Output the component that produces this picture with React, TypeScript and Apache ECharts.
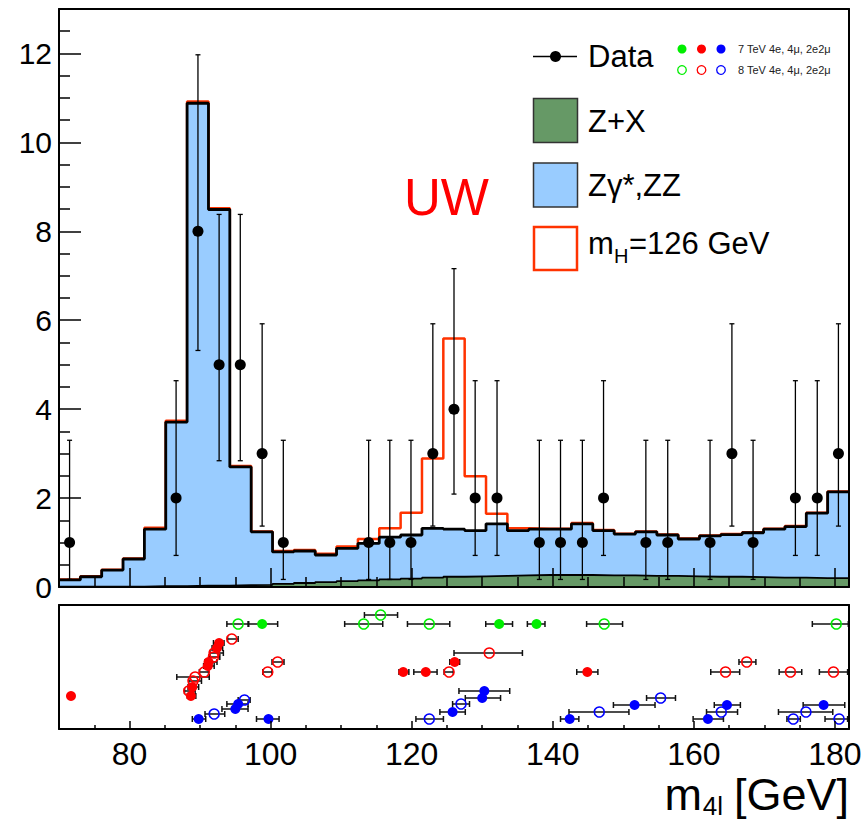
import React, { useEffect, useRef } from 'react';
import * as echarts from 'echarts';

// ---------- histogram binning ----------
const X_MIN = 70;
const X_MAX = 182;
const N_BINS = 37;

// Z+X background per bin
const zxBkg = [0.01, 0.01, 0.01, 0.01, 0.02, 0.02, 0.03, 0.03, 0.04, 0.05, 0.07, 0.09, 0.11, 0.13, 0.15, 0.17, 0.19, 0.21, 0.23, 0.24, 0.25, 0.26, 0.27, 0.27, 0.27, 0.26, 0.26, 0.25, 0.25, 0.24, 0.23, 0.23, 0.22, 0.21, 0.21, 0.20, 0.20];
// Zgamma*,ZZ background per bin
const zzBkg = [0.15, 0.22, 0.37, 0.62, 1.28, 3.69, 10.85, 8.46, 2.66, 1.19, 0.72, 0.72, 0.61, 0.74, 0.83, 0.95, 0.98, 1.11, 1.07, 1.03, 1.17, 1.01, 1.03, 1.03, 1.15, 1.01, 0.93, 0.99, 0.92, 0.84, 0.92, 0.95, 1.00, 1.09, 1.15, 1.46, 1.94];
// mH = 126 GeV signal per bin
const higgs126 = [0.01, 0.01, 0.01, 0.01, 0.03, 0.03, 0.04, 0.03, 0.02, 0.01, 0.02, 0.02, 0.03, 0.04, 0.10, 0.20, 0.50, 1.57, 4.29, 1.22, 0.23, 0.05, 0.01, 0.01, 0.02, 0.01, 0.01, 0.01, 0.01, 0.01, 0.01, 0.01, 0.01, 0.01, 0.01, 0.01, 0.01];

// ---------- data points ----------
const dataMass = [71.5, 86.6, 89.7, 92.7, 95.7, 98.8, 101.8, 113.9, 116.9, 119.9, 123.0, 126.0, 129.0, 132.1, 138.1, 141.1, 144.2, 147.2, 153.2, 156.3, 162.3, 165.4, 168.4, 174.4, 177.5, 180.5];
const dataCount = [1, 2, 8, 5, 5, 3, 1, 1, 1, 1, 3, 4, 2, 2, 1, 1, 1, 2, 1, 1, 1, 3, 1, 2, 2, 3];
const dataErrLow = [0.17, 0.71, 5.32, 2.84, 2.84, 1.37, 0.17, 0.17, 0.17, 0.17, 1.37, 2.09, 0.71, 0.71, 0.17, 0.17, 0.17, 0.71, 0.17, 0.17, 0.17, 1.37, 0.17, 0.71, 0.71, 1.37];
const dataErrHigh = [3.30, 4.64, 11.97, 8.38, 8.38, 5.92, 3.30, 3.30, 3.30, 3.30, 5.92, 7.16, 4.64, 4.64, 3.30, 3.30, 3.30, 4.64, 3.30, 3.30, 3.30, 5.92, 3.30, 4.64, 4.64, 5.92];

// ---------- individual events: [m4l, low, high, row] ----------
const ev7TeV4e = [
  [98.8, 96.9, 101.0, 10.5],
  [132.4, 130.5, 134.3, 10.5],
  [137.7, 136.4, 138.9, 10.5],
];
const ev8TeV4e = [
  [95.4, 93.8, 96.8, 10.5],
  [115.6, 113.3, 118.0, 11.4],
  [113.2, 110.5, 115.9, 10.5],
  [122.5, 119.4, 125.4, 10.5],
  [147.3, 144.8, 149.9, 10.5],
  [180.2, 176.8, 181.9, 10.5],
];
const ev7TeV4mu = [
  [71.7, 71.3, 72.1, 3.3],
  [92.7, 91.9, 93.4, 8.6],
  [92.4, 91.7, 93.2, 8.1],
  [91.2, 90.7, 92.4, 6.7],
  [91.1, 90.5, 92.0, 6.3],
  [88.9, 88.3, 89.8, 4.2],
  [88.7, 88.2, 89.4, 3.3],
  [118.8, 118.2, 119.6, 5.7],
  [122.0, 120.3, 123.6, 5.7],
  [126.1, 125.4, 126.8, 6.7],
  [144.9, 143.4, 146.4, 5.7],
];
const ev8TeV4mu = [
  [94.5, 93.9, 95.4, 9.0],
  [92.0, 91.4, 93.3, 7.6],
  [91.9, 91.3, 92.8, 7.2],
  [90.6, 89.9, 91.2, 5.7],
  [89.3, 86.7, 91.3, 5.2],
  [89.0, 88.4, 90.2, 4.8],
  [88.4, 87.8, 89.3, 3.8],
  [101.0, 100.2, 101.9, 6.7],
  [99.6, 98.9, 100.2, 5.7],
  [125.3, 124.6, 125.9, 5.7],
  [131.0, 126.0, 135.7, 7.6],
  [167.5, 166.4, 168.8, 6.7],
  [164.5, 162.4, 166.5, 5.7],
  [173.7, 172.1, 175.3, 5.7],
  [179.8, 177.8, 181.8, 5.7],
];
const ev7TeV2e2mu = [
  [95.4, 93.8, 96.8, 2.5],
  [95.0, 93.1, 96.8, 2.0],
  [89.8, 88.9, 90.8, 1.0],
  [99.7, 98.0, 101.2, 1.0],
  [125.8, 124.0, 127.6, 1.7],
  [130.3, 126.7, 133.9, 3.8],
  [130.0, 127.6, 132.6, 3.1],
  [142.4, 141.1, 143.7, 1.0],
  [151.6, 148.6, 154.5, 2.4],
  [164.7, 162.9, 166.6, 2.4],
  [162.0, 159.9, 164.2, 1.0],
  [178.4, 175.5, 181.4, 2.4],
];
const ev8TeV2e2mu = [
  [96.3, 95.4, 97.1, 2.9],
  [92.0, 90.7, 93.5, 1.5],
  [127.0, 125.8, 128.2, 2.5],
  [122.5, 120.6, 124.5, 1.0],
  [146.6, 142.3, 150.8, 1.7],
  [155.3, 153.3, 157.4, 3.1],
  [163.9, 161.8, 166.2, 1.7],
  [175.9, 172.0, 179.7, 1.7],
  [174.1, 173.2, 175.1, 1.0],
  [180.6, 178.6, 181.8, 1.0],
];

// ---------- ticks ----------
const xMajorTicks = [80, 100, 120, 140, 160, 180];
const xMinorTicks = [75, 85, 90, 95, 105, 110, 115, 125, 130, 135, 145, 150, 155, 165, 170, 175];
const yMajorTicks = [0, 2, 4, 6, 8, 10, 12];
const yMinorTicks = [0.5, 1, 1.5, 2.5, 3, 3.5, 4.5, 5, 5.5, 6.5, 7, 7.5, 8.5, 9, 9.5, 10.5, 11, 11.5, 12.5];

const FONT = '"Liberation Sans", Arial, Helvetica, sans-serif';
const C_GREEN = '#669966';
const C_BLUE = '#99ccff';
const C_SIG = '#ff3300';

function stepPoints(vals: number[]) {
  const w = (X_MAX - X_MIN) / N_BINS;
  const pts = vals.map((v, i) => [X_MIN + i * w, v]);
  pts.push([X_MAX, vals[vals.length - 1]]);
  return pts;
}

function App() {
  const ref = useRef<HTMLDivElement>(null);
  useEffect(() => {
    const chart = echarts.init(ref.current!, null, { renderer: 'svg' });

    const bgTotal = zzBkg.map((v, i) => v + zxBkg[i]);
    const sigTotal = bgTotal.map((v, i) => v + higgs126[i]);

    const lineOnly = (gridIndex: number, position: string, min: number, max: number) => ({
      gridIndex, type: 'value', min, max, position, z: 10,
      axisLine: { show: true, onZero: false, lineStyle: { color: '#000', width: 2 } },
      axisTick: { show: false }, axisLabel: { show: false }, splitLine: { show: false },
    });
    const tickAxis = (gridIndex: number, position: string, min: number, max: number, values: number[], len: number) => ({
      gridIndex, type: 'value', min, max, position, z: 10,
      axisLine: { show: false, onZero: false },
      axisTick: { show: true, inside: true, length: len, customValues: values, lineStyle: { color: '#000', width: 1.5 } },
      axisLabel: { show: false }, splitLine: { show: false },
    });

    const vErrSeries = {
      type: 'custom', xAxisIndex: 0, yAxisIndex: 0, z: 6, silent: true,
      data: dataMass.map((m, i) => [m, dataErrLow[i], dataErrHigh[i]]),
      renderItem: (params: any, api: any) => {
        const lo = api.coord([api.value(0), api.value(1)]);
        const hi = api.coord([api.value(0), api.value(2)]);
        const st = { stroke: '#000', lineWidth: 1.3 };
        return {
          type: 'group', children: [
            { type: 'line', shape: { x1: lo[0], y1: lo[1], x2: hi[0], y2: hi[1] }, style: st },
            { type: 'line', shape: { x1: lo[0] - 2.5, y1: lo[1], x2: lo[0] + 2.5, y2: lo[1] }, style: st },
            { type: 'line', shape: { x1: hi[0] - 2.5, y1: hi[1], x2: hi[0] + 2.5, y2: hi[1] }, style: st },
          ],
        };
      },
    };

    const hErrSeries = (events: number[][]) => ({
      type: 'custom', xAxisIndex: 3, yAxisIndex: 3, z: 5, silent: true,
      data: events.map((e) => [e[1], e[2], e[3]]),
      renderItem: (params: any, api: any) => {
        const a = api.coord([api.value(0), api.value(2)]);
        const b = api.coord([api.value(1), api.value(2)]);
        const st = { stroke: '#111', lineWidth: 1.5 };
        return {
          type: 'group', children: [
            { type: 'line', shape: { x1: a[0], y1: a[1], x2: b[0], y2: b[1] }, style: st },
            { type: 'line', shape: { x1: a[0], y1: a[1] - 3, x2: a[0], y2: a[1] + 3 }, style: st },
            { type: 'line', shape: { x1: b[0], y1: b[1] - 3, x2: b[0], y2: b[1] + 3 }, style: st },
          ],
        };
      },
    });

    const markers = (events: number[][], color: string, filled: boolean) => ({
      type: 'scatter', xAxisIndex: 3, yAxisIndex: 3, z: 6, silent: true,
      data: events.map((e) => [e[0], e[3]]),
      symbol: 'circle', symbolSize: 10,
      itemStyle: filled
        ? { color, opacity: 1 }
        : { color: 'rgba(255,255,255,0)', borderColor: color, borderWidth: 1.6, opacity: 1 },
    });

    const txt = (x: number, y: number, text: string, size: number, extra: any = {}) => ({
      type: 'text', x, y, z: 20, silent: true,
      style: { text, fontSize: size, fontFamily: FONT, fill: '#000', verticalAlign: 'middle', align: 'left', ...extra },
    });

    const option: any = {
      animation: false,
      backgroundColor: '#fff',
      grid: [
        { left: 59, top: 9, width: 790, height: 578, show: false },
        { left: 59, top: 605, width: 790, height: 124, show: false },
      ],
      xAxis: [
        { ...tickAxis(0, 'bottom', X_MIN, X_MAX, xMajorTicks, 19), axisLine: { show: true, onZero: false, lineStyle: { color: '#000', width: 2 } } },
        tickAxis(0, 'bottom', X_MIN, X_MAX, xMinorTicks, 10),
        lineOnly(0, 'top', X_MIN, X_MAX),
        {
          gridIndex: 1, type: 'value', min: X_MIN, max: X_MAX, position: 'bottom', z: 10,
          axisLine: { show: true, onZero: false, lineStyle: { color: '#000', width: 2 } },
          axisTick: { show: true, inside: true, length: 8, customValues: xMajorTicks, lineStyle: { color: '#000', width: 1.5 } },
          axisLabel: { show: true, customValues: xMajorTicks, fontSize: 32, fontFamily: FONT, color: '#000', margin: 9 },
          splitLine: { show: false },
        },
        tickAxis(1, 'bottom', X_MIN, X_MAX, xMinorTicks, 4),
        lineOnly(1, 'top', X_MIN, X_MAX),
      ],
      yAxis: [
        {
          gridIndex: 0, type: 'value', min: 0, max: 13, position: 'left', z: 10,
          axisLine: { show: true, onZero: false, lineStyle: { color: '#000', width: 2 } },
          axisTick: { show: true, inside: true, length: 22, customValues: yMajorTicks, lineStyle: { color: '#000', width: 1.5 } },
          axisLabel: { show: true, customValues: yMajorTicks, fontSize: 30, fontFamily: FONT, color: '#000', margin: 7 },
          splitLine: { show: false },
        },
        tickAxis(0, 'left', 0, 13, yMinorTicks, 11),
        lineOnly(0, 'right', 0, 13),
        lineOnly(1, 'left', 0, 12.4),
        lineOnly(1, 'right', 0, 12.4),
      ],
      series: [
        {
          type: 'line', xAxisIndex: 0, yAxisIndex: 0, step: 'end', z: 1, silent: true,
          data: stepPoints(sigTotal), symbol: 'none',
          lineStyle: { color: C_SIG, width: 2.5 },
        },
        {
          type: 'line', xAxisIndex: 0, yAxisIndex: 0, step: 'end', z: 2, silent: true,
          data: stepPoints(bgTotal), symbol: 'none',
          lineStyle: { color: '#000', width: 2.8 },
          areaStyle: { color: C_BLUE, opacity: 1 },
        },
        {
          type: 'line', xAxisIndex: 0, yAxisIndex: 0, step: 'end', z: 3, silent: true,
          data: stepPoints(zxBkg), symbol: 'none',
          lineStyle: { color: '#000', width: 1.8 },
          areaStyle: { color: C_GREEN, opacity: 1 },
        },
        vErrSeries,
        {
          type: 'scatter', xAxisIndex: 0, yAxisIndex: 0, z: 7, silent: true,
          data: dataMass.map((m, i) => [m, dataCount[i]]),
          symbol: 'circle', symbolSize: 11, itemStyle: { color: '#000', opacity: 1 },
        },
        hErrSeries([...ev7TeV4e, ...ev8TeV4e, ...ev7TeV4mu, ...ev8TeV4mu, ...ev7TeV2e2mu, ...ev8TeV2e2mu]),
        markers(ev7TeV4e, '#00ee00', true),
        markers(ev8TeV4e, '#00ee00', false),
        markers(ev7TeV4mu, '#ff0000', true),
        markers(ev8TeV4mu, '#ff0000', false),
        markers(ev7TeV2e2mu, '#0000ff', true),
        markers(ev8TeV2e2mu, '#0000ff', false),
      ],
      graphic: [
        { type: 'line', z: 20, shape: { x1: 533, y1: 56.5, x2: 577, y2: 56.5 }, style: { stroke: '#000', lineWidth: 1.5 } },
        { type: 'circle', z: 20, shape: { cx: 555.5, cy: 56.5, r: 5.5 }, style: { fill: '#000' } },
        txt(588, 56, 'Data', 31),
        { type: 'circle', z: 20, shape: { cx: 682, cy: 49, r: 4.5 }, style: { fill: '#00ee00' } },
        { type: 'circle', z: 20, shape: { cx: 701.5, cy: 49, r: 4.5 }, style: { fill: '#ff0000' } },
        { type: 'circle', z: 20, shape: { cx: 721, cy: 49, r: 4.5 }, style: { fill: '#0000ff' } },
        { type: 'circle', z: 20, shape: { cx: 682, cy: 70, r: 4.3 }, style: { fill: 'none', stroke: '#00ee00', lineWidth: 1.3 } },
        { type: 'circle', z: 20, shape: { cx: 701.5, cy: 70, r: 4.3 }, style: { fill: 'none', stroke: '#ff0000', lineWidth: 1.3 } },
        { type: 'circle', z: 20, shape: { cx: 721, cy: 70, r: 4.3 }, style: { fill: 'none', stroke: '#0000ff', lineWidth: 1.3 } },
        txt(738, 49, '7 TeV 4e, 4\u03bc, 2e2\u03bc', 11, { fill: '#222' }),
        txt(738, 69.5, '8 TeV 4e, 4\u03bc, 2e2\u03bc', 11, { fill: '#222' }),
        { type: 'rect', z: 20, shape: { x: 533.5, y: 98.5, width: 44, height: 44 }, style: { fill: C_GREEN, stroke: '#333', lineWidth: 1.5 } },
        txt(588, 121, 'Z+X', 31),
        { type: 'rect', z: 20, shape: { x: 533.5, y: 163, width: 44, height: 44 }, style: { fill: C_BLUE, stroke: '#333', lineWidth: 1.5 } },
        txt(588, 185, 'Z\u03b3*,ZZ', 31),
        { type: 'rect', z: 20, shape: { x: 534, y: 227, width: 43, height: 43 }, style: { fill: '#fff', stroke: C_SIG, lineWidth: 2.5 } },
        txt(588, 243, 'm', 31),
        txt(614, 256, 'H', 20),
        txt(629, 243, '=126 GeV', 31),
        txt(404, 197, 'UW', 51, { fill: '#ff0000' }),
        txt(849, 794, '[GeV]', 45, { align: 'right' }),
        txt(723, 806, '4l', 26, { align: 'right' }),
        txt(702, 794, 'm', 45, { align: 'right' }),
      ],
    };

    chart.setOption(option);
    return () => chart.dispose();
  }, []);
  return (
    <div
      ref={ref}
      style={{ position: 'absolute', left: 0, top: 0, width: 865, height: 822, background: '#fff' }}
    />
  );
}

export default App;
